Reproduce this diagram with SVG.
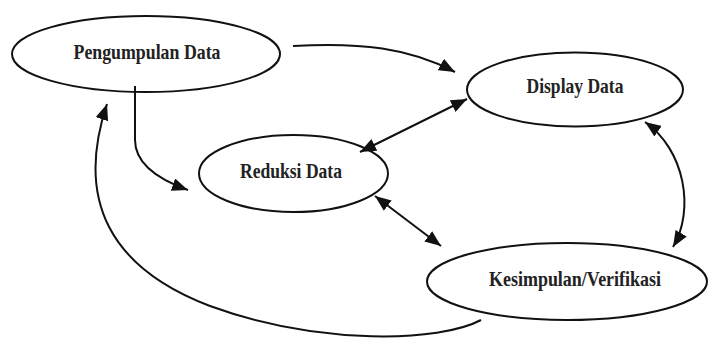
<svg xmlns="http://www.w3.org/2000/svg" width="712" height="340" viewBox="0 0 712 340">
<style>
.node ellipse{fill:#fff;stroke:#111;stroke-width:2}
.node text{font-family:"Liberation Serif","Times New Roman",serif;font-weight:bold;font-size:21px;fill:#222;text-anchor:middle}
.conn path{fill:none;stroke:#111;stroke-width:2}
</style>
<defs>
<marker id="ah" viewBox="0 0 16 13" refX="16" refY="6.5" markerWidth="16" markerHeight="13" markerUnits="userSpaceOnUse" orient="auto-start-reverse">
<path d="M0,0 L16,6.5 L0,13 Z" fill="#111"/>
</marker>
</defs>
<rect width="712" height="340" fill="#fff"/>
<g id="pengumpulan" class="node">
<ellipse cx="146" cy="54" rx="134" ry="38"/>
<text x="147" y="59" textLength="147" lengthAdjust="spacingAndGlyphs">Pengumpulan Data</text>
</g>
<g id="display" class="node">
<ellipse cx="575" cy="89.5" rx="108" ry="37"/>
<text x="575" y="93" textLength="97" lengthAdjust="spacingAndGlyphs">Display Data</text>
</g>
<g id="reduksi" class="node">
<ellipse cx="293.5" cy="173.5" rx="94.5" ry="38.5"/>
<text x="291" y="178" textLength="102" lengthAdjust="spacingAndGlyphs">Reduksi Data</text>
</g>
<g id="kesimpulan" class="node">
<ellipse cx="567" cy="281.5" rx="140" ry="38.5"/>
<text x="575" y="286" textLength="172" lengthAdjust="spacingAndGlyphs">Kesimpulan/Verifikasi</text>
</g>
<g id="connectors" class="conn">
<path d="M293,46 C360,42 410,48 455,72" marker-end="url(#ah)"/>
<path d="M360,152 L467,99" marker-start="url(#ah)" marker-end="url(#ah)"/>
<path d="M375,196 L441,246" marker-start="url(#ah)" marker-end="url(#ah)"/>
<path d="M645,122 C685,150 695,210 673,247" marker-start="url(#ah)" marker-end="url(#ah)"/>
<path d="M135,86 L135,140 C135,165 160,180 188,190" marker-end="url(#ah)"/>
<path d="M481,320 C440,342 320,346 210,306 C110,268 75,200 107,104" marker-end="url(#ah)"/>
</g>
</svg>
